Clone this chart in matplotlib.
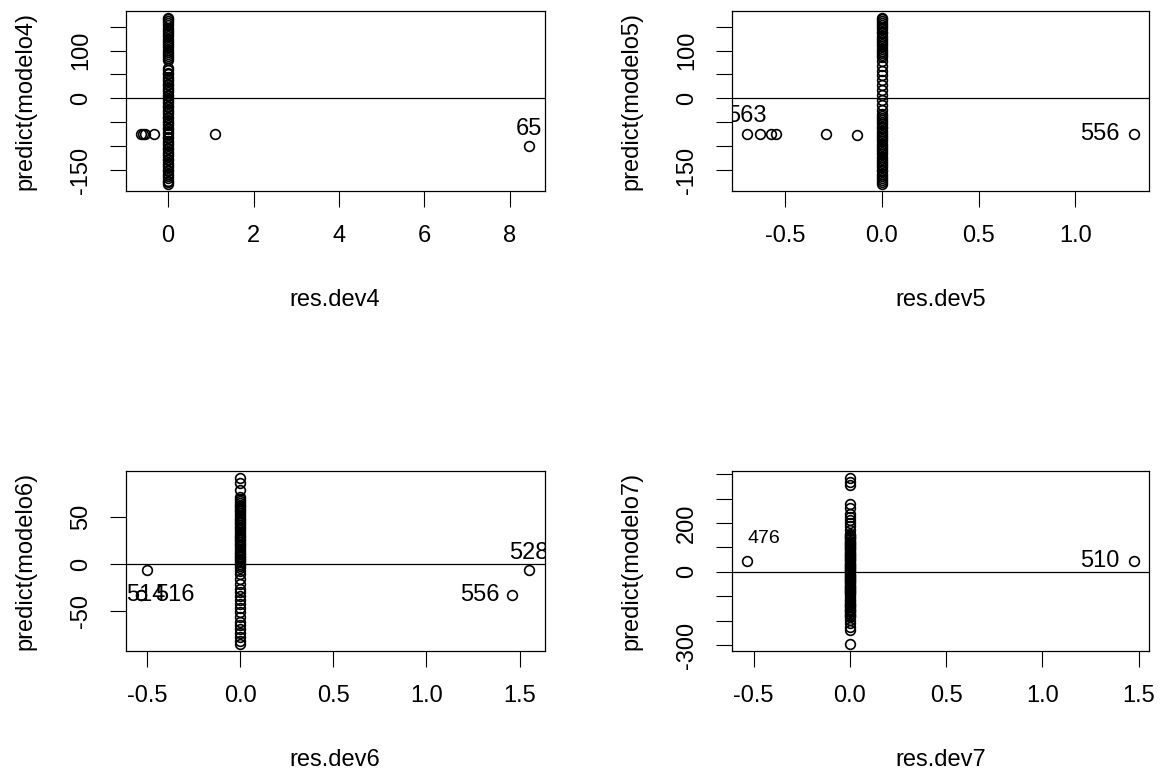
import matplotlib.pyplot as plt
import numpy as np
from matplotlib.transforms import ScaledTranslation

plt.rcParams['font.family'] = ['Liberation Sans', 'DejaVu Sans']

# --- datos ---
# columna de residuos ~0 (y = predict) y puntos atipicos por modelo
col_y4 = [-180, -176, -172, -167, -162, -158, -153, -149, -144, -139, -135, -130,
          -126, -121, -116, -112, -107, -103, -98, -93, -89, -84, -80, -74, -70,
          -65, -61, -56, -51, -47, -42, -38, -33, -28, -24, -19, -15, -10, -5, -1,
          4, 8, 13, 18, 22, 27, 31, 36, 41, 45, 50, 54, 59, 63, 80, 84, 89, 93, 98,
          102, 107, 112, 116, 121, 125, 130, 135, 139, 144, 148, 153, 158, 162,
          166, 169]
out_x4 = [-0.63, -0.58, -0.53, -0.33, 1.09, 8.45]
out_y4 = [-74, -74, -74, -74, -74, -100]
out_id4 = ['', '', '', '', '', '65']

col_y5 = [-180, -176, -171, -167, -162, -158, -153, -149, -144, -140, -135, -131,
          -126, -122, -117, -113, -108, -104, -99, -95, -90, -86, -81, -77, -72,
          -68, -63, -59, -54, -50, -45, -41, -36, -32, -24, -14, -4, 7, 17, 27, 38,
          48, 58, 68, 78, 86, 91, 95, 100, 104, 109, 113, 118, 122, 127, 131, 136,
          140, 145, 149, 154, 158, 163, 166, 169]
out_x5 = [-0.697, -0.63, -0.572, -0.549, -0.288, -0.13, 1.30]
out_y5 = [-74, -74, -74, -74, -74, -77, -74]
out_id5 = ['563', '', '', '', '', '', '556']

col_y6 = [-85, -81, -77, -73, -69, -65, -61, -56, -51, -46, -42, -38, -34, -30,
          -26, -21, -16, -11, -7, -4, -2, 0, 2, 4, 5, 7, 9, 11, 12, 14, 16, 18, 20,
          21, 23, 25, 27, 29, 30, 32, 34, 36, 38, 39, 41, 43, 45, 47, 48, 50, 52,
          54, 56, 57, 59, 61, 63, 65, 67, 69, 71, 78, 86, 91.5]
out_x6 = [-0.50, -0.53, -0.53, 1.55, 1.461]
out_y6 = [-6.4, -32.8, -32.8, -6.4, -32.8]
out_id6 = ['', '514', '516', '528', '556']

col_y7 = [-297, -239, -224, -210, -198, -186, -181, -176, -171, -166, -161, -156,
          -151, -146, -141, -136, -131, -126, -121, -116, -108, -97, -92, -88, -83,
          -79, -74, -70, -65, -61, -56, -52, -47, -43, -38, -34, -29, -25, -20,
          -16, -11, -7, -2, 2, 7, 11, 16, 20, 25, 29, 34, 38, 43, 47, 52, 56, 61,
          65, 70, 74, 79, 83, 88, 92, 97, 101, 106, 110, 115, 119, 124, 128, 133,
          137, 142, 146, 151, 157, 171, 186, 199, 212, 226, 239, 260, 280, 355,
          370, 386]
out_x7 = [-0.534, 1.473]
out_y7 = [45, 45]
out_id7 = ['476', '510']

xticks4 = [0, 2, 4, 6, 8]
xlabels4 = ['0', '2', '4', '6', '8']
xticks5 = [-0.5, 0.0, 0.5, 1.0]
xlabels5 = ['-0.5', '0.0', '0.5', '1.0']
xticks67 = [-0.5, 0.0, 0.5, 1.0, 1.5]
xlabels67 = ['-0.5', '0.0', '0.5', '1.0', '1.5']
yticks45 = [-150, -100, -50, 0, 50, 100, 150]
ylabels45 = ['-150', '', '', '0', '', '100', '']
yticks6 = [-50, 0, 50]
ylabels6 = ['-50', '0', '50']
yticks7 = [-300, -200, -100, 0, 100, 200, 300, 400]
ylabels7 = ['-300', '', '', '0', '', '200', '', '']

W, H = 1164, 776
fig = plt.figure(figsize=(W / 100, H / 100), dpi=100)
FS = 17


def rect(left, top, w, h):
    return [left / W, 1 - (top + h) / H, w / W, h / H]


def shift(ax, dx, dy):
    return ax.transData + ScaledTranslation(dx / 72, dy / 72, fig.dpi_scale_trans)


def panel(r, col_y, out_x, out_y, out_id, xt, xtl, yt, ytl, xlab, ylab, place):
    ax = fig.add_axes(r)
    x = np.concatenate([np.zeros(len(col_y)), out_x])
    y = np.concatenate([col_y, out_y])
    ax.plot(x, y, 'o', mfc='none', mec='black', ms=7, mew=1.2, ls='none')
    # rango tipo R: 4% a cada lado
    rx = x.max() - x.min()
    ry = y.max() - y.min()
    ax.set_xlim(x.min() - 0.04 * rx, x.max() + 0.04 * rx)
    ax.set_ylim(y.min() - 0.04 * ry, y.max() + 0.04 * ry)
    ax.axhline(0, color='black', lw=0.9)
    for xi, yi, lab in zip(out_x, out_y, out_id):
        if lab:
            dx, dy, ha, fs = place[lab]
            ax.text(xi, yi, lab, transform=shift(ax, dx, dy), ha=ha, va='center',
                    fontsize=fs, clip_on=True)
    ax.set_xticks(xt)
    ax.set_xticklabels(xtl)
    ax.set_yticks(yt)
    ax.set_yticklabels(ytl, rotation=90, va='center')
    ax.tick_params(direction='out', length=11.2, width=0.8, labelsize=FS, pad=13)
    for s in ax.spines.values():
        s.set_linewidth(0.9)
    ax.set_xlabel(xlab, fontsize=FS)
    ax.xaxis.set_label_coords(0.5, -109 / 180)
    ax.xaxis.label.set_va('center')
    ax.set_ylabel(ylab, fontsize=FS)
    ax.yaxis.set_label_coords(-100 / 418, 0.5)
    ax.yaxis.label.set_va('center')
    return ax


panel(rect(125.7, 11, 418.8, 180), col_y4, out_x4, out_y4, out_id4,
      xticks4, xlabels4, yticks45, ylabels45, 'res.dev4', 'predict(modelo4)',
      {'65': (0, 12.5, 'center', FS)})
panel(rect(731.6, 11, 417.4, 180), col_y5, out_x5, out_y5, out_id5,
      xticks5, xlabels5, yticks45, ylabels45, 'res.dev5', 'predict(modelo5)',
      {'563': (0, 13, 'center', FS), '556': (-10, 0, 'right', FS)})
panel(rect(125.7, 471, 418.8, 180), col_y6, out_x6, out_y6, out_id6,
      xticks67, xlabels67, yticks6, ylabels6, 'res.dev6', 'predict(modelo6)',
      {'514': (3, 0, 'center', FS), '516': (10, 0, 'left', FS),
       '528': (0, 12.5, 'center', FS), '556': (-9, 0, 'right', FS)})
panel(rect(731.6, 471, 417.4, 180), col_y7, out_x7, out_y7, out_id7,
      xticks67, xlabels67, yticks7, ylabels7, 'res.dev7', 'predict(modelo7)',
      {'476': (12, 16, 'center', 14), '510': (-10, 0, 'right', FS)})

fig.savefig('out.png', dpi=100)
